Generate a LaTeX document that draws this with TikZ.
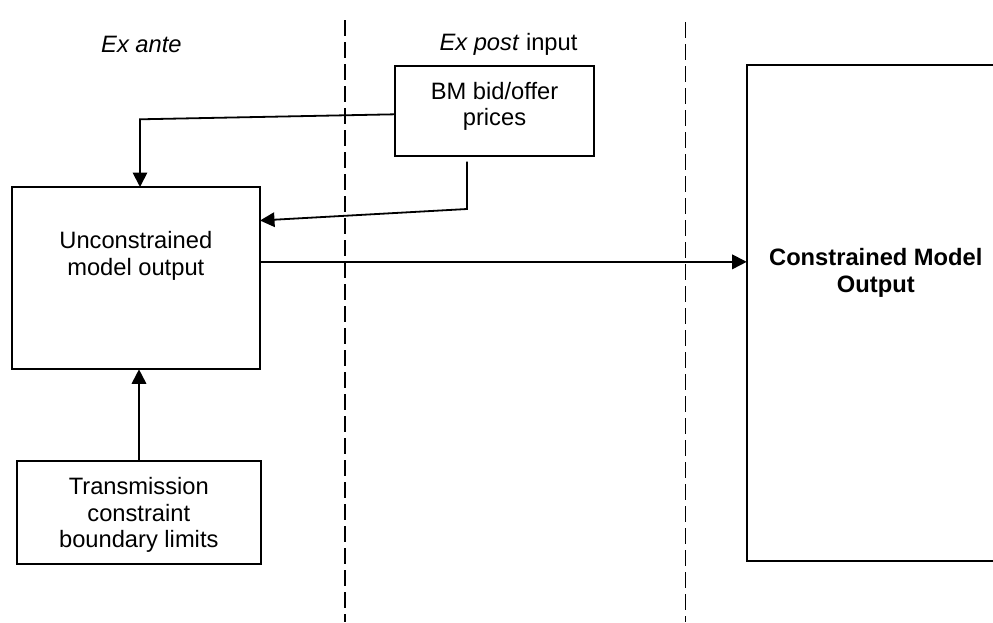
\documentclass[tikz,border=0pt]{standalone}
\usepackage{fontspec}
\setmainfont{Liberation Sans}
\usetikzlibrary{arrows.meta}
\begin{document}
\begin{tikzpicture}[x=1pt,y=-1pt,
  box/.style={draw=black, line width=1.9pt, rectangle, inner sep=0pt, outer sep=0pt, anchor=north west},
  txt/.style={inner sep=0pt, align=center, font=\fontsize{23.7}{26.7}\selectfont},
  conn/.style={draw=black, line width=1.8pt, -{Triangle[length=14.5pt,width=14.5pt]}},
  divider/.style={draw=black, line width=1.5pt, dash pattern=on 15.5pt off 6.5pt}]
\useasboundingbox (0,0) rectangle (993,622);
\fill[white] (0,0) rectangle (993,622);
\clip (0,0) rectangle (993,622);
% dividers
\coordinate (d1t) at (345,20);
\coordinate (d1b) at (345,622);
\coordinate (d2t) at (685.5,22);
\coordinate (d2b) at (685.5,622);
\draw[divider] (d1t) -- (d1b);
\draw[divider] (d2t) -- (d2b);
% headings
\node[txt, anchor=base] (exante) at (141.4,52.3) {\itshape Ex ante};
\node[txt, anchor=base] (expost) at (508.5,50.3) {\textit{Ex post} input};
% boxes
\node[box, minimum width=199pt, minimum height=90pt] (bm) at (395,65.7) {};
\node[box, minimum width=248.3pt, minimum height=182.3pt] (unc) at (11.7,187) {};
\node[box, minimum width=243.4pt, minimum height=103.3pt] (trans) at (17.3,460.7) {};
\node[box, minimum width=270pt, minimum height=496pt] (cons) at (746.7,65) {};
% texts
\node[txt] (bmtext) at (494.5,106.5) {BM bid/offer\\prices};
\node[txt] (unctext) at (135.8,256.1) {Unconstrained\\model output};
\node[txt] (transtext) at (138.8,515.1) {Transmission\\constraint\\boundary limits};
\node[txt, font=\fontsize{23.7}{26.7}\selectfont\bfseries] (constext) at (875.8,272.7) {Constrained Model\\Output};
% connectors
\coordinate (c1) at (140,119.3);
\draw[conn] ([yshift=-3.6pt]bm.west) -- (c1) -- (c1 |- unc.north);
\coordinate (c2) at (467,161.7);
\coordinate (c3) at (467,209);
\draw[conn] (c2) -- (c3) -- ([yshift=-33.5pt]unc.north east);
\draw[conn] ([yshift=16.3pt]unc.east) coordinate (o1) -- (o1 -| cons.west);
\draw[conn] (trans.north) -- (trans.north |- unc.south);
\end{tikzpicture}
\end{document}
